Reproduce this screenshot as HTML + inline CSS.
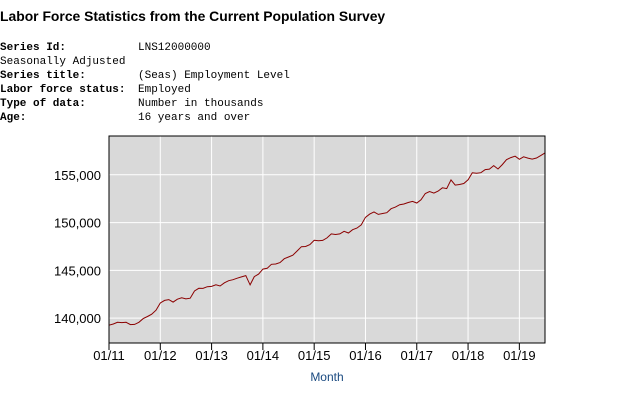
<!DOCTYPE html>
<html><head><meta charset="utf-8"><style>
body{margin:0;width:623px;height:415px;background:#fff;overflow:hidden;position:relative;font-family:"Liberation Sans",sans-serif}
.t{position:absolute;left:0;top:8px;font-weight:bold;font-size:13.9px;color:#000}
.r{position:absolute;font-family:"Liberation Mono","DejaVu Sans Mono",monospace;font-size:11px;color:#000;white-space:pre}
.b{font-weight:bold}
svg{position:absolute;left:0;top:0}
</style></head><body>
<div class="t">Labor Force Statistics from the Current Population Survey</div>
<div class="r b" style="left:0;top:42px">Series Id:</div>
<div class="r" style="left:138px;top:42px">LNS12000000</div>
<div class="r" style="left:0;top:56px">Seasonally Adjusted</div>
<div class="r b" style="left:0;top:70px">Series title:</div>
<div class="r" style="left:138px;top:70px">(Seas) Employment Level</div>
<div class="r b" style="left:0;top:84px">Labor force status:</div>
<div class="r" style="left:138px;top:84px">Employed</div>
<div class="r b" style="left:0;top:98px">Type of data:</div>
<div class="r" style="left:138px;top:98px">Number in thousands</div>
<div class="r b" style="left:0;top:112px">Age:</div>
<div class="r" style="left:138px;top:112px">16 years and over</div>
<svg id="c" width="623" height="415"></svg>
<script>
const values=[139264,139386,139564,139531,139571,139325,139351,139561,139950,140175,140415,140828,
141583,141853,141944,141677,141981,142126,142011,142087,142844,143125,143111,143296,
143322,143492,143362,143701,143924,144020,144180,144313,144452,143484,144352,144613,
145130,145216,145637,145670,145814,146226,146401,146584,147025,147479,147495,147698,
148150,148093,148135,148397,148814,148749,148814,149090,148906,149260,149425,149760,
150555,150891,151117,150854,150948,151030,151448,151621,151867,151940,152098,152216,
152050,152382,153041,153255,153080,153297,153639,153553,154468,153920,153986,154086,
154482,155213,155160,155216,155539,155592,155964,155604,156069,156582,156803,156945,
156627,156882,156748,156645,156758,157005,157288];
const yTicks=[140000,145000,150000,155000];
const yTickLabels=["140,000","145,000","150,000","155,000"];
const xTickLabels=["01/11","01/12","01/13","01/14","01/15","01/16","01/17","01/18","01/19"];
const L=109,R=545,T=136,B=343,Y0=137400,Y1=159060,N=103;
const x=i=>L+(R-L)*i/(N-1);
const y=v=>B-(v-Y0)/(Y1-Y0)*(B-T);
const s=document.getElementById('c'),NS='http://www.w3.org/2000/svg';
function mk(t,a,txt){const e=document.createElementNS(NS,t);for(const k in a)e.setAttribute(k,a[k]);if(txt)e.textContent=txt;s.appendChild(e);return e;}
let e=mk('rect',{x:L,y:T,width:R-L,height:B-T,fill:'#d9d9d9'});


yTicks.forEach((v,i)=>{
 let g=mk('line',{x1:L,x2:R,y1:y(v),y2:y(v),stroke:'#fff','stroke-width':1});
 
 
 let t=mk('text',{x:101,y:y(v)+5,'text-anchor':'end','font-size':'13','font-family':'Liberation Sans, sans-serif',fill:'#000'},yTickLabels[i]);
 
 
});
xTickLabels.forEach((lab,i)=>{
 const xx=x(i*12);
 if(i>0){let g=mk('line',{x1:xx,x2:xx,y1:T,y2:B,stroke:'#fff','stroke-width':1});
 
 }
 let k=mk('line',{x1:xx,x2:xx,y1:B,y2:B+7,stroke:'#000'});
 
 
 let t=mk('text',{x:xx,y:360,'text-anchor':'middle','font-size':'13','font-family':'Liberation Sans, sans-serif',fill:'#000'},lab);
 
 
});
let p=mk('polyline',{points:values.map((v,i)=>x(i).toFixed(1)+','+y(v).toFixed(1)).join(' '),fill:'none',stroke:'#8b0000','stroke-width':1});


let bd=mk('rect',{x:L,y:T,width:R-L,height:B-T,fill:'none',stroke:'#000','stroke-width':1});


let xt=mk('text',{x:327,y:381,'text-anchor':'middle','font-size':'12','font-family':'Liberation Sans, sans-serif',fill:'#1a4a80'},'Month');


</script>
</body></html>
